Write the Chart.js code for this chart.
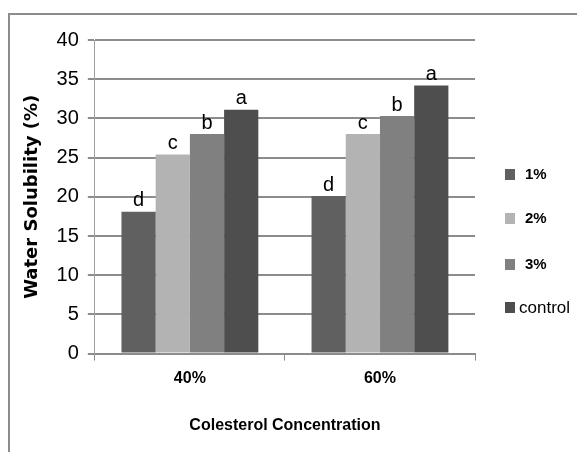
<!DOCTYPE html>
<html>
<head>
<meta charset="utf-8">
<script src="https://cdn.jsdelivr.net/npm/chart.js@4/dist/chart.umd.min.js"></script>
<style>
  html, body { margin: 0; padding: 0; background: #fff; }
  #wrap { position: relative; width: 577px; height: 452px; overflow: hidden; }
  #frame { position: absolute; left: 8px; top: 13px; width: 700px; height: 600px; border: 2px solid #8c8c8c; }
  canvas { position: absolute; left: 0; top: 0; }
</style>
</head>
<body>
<div id="wrap">
  <div id="frame"></div>
  <canvas id="chart" width="577" height="452"></canvas>
</div>
<script>
// categories and series
const categories = ['40%', '60%']
const seriesNames = ['1%', '2%', '3%', 'control']
const s1 = [18.1, 20.1]
const s2 = [25.4, 28.0]
const s3 = [28.0, 30.3]
const sControl = [31.1, 34.2]
const letters1 = ['d', 'd']
const letters2 = ['c', 'c']
const letters3 = ['b', 'b']
const lettersControl = ['a', 'a']
const yTicks = [0, 5, 10, 15, 20, 25, 30, 35, 40]

const colors = ['#606060', '#b3b3b3', '#808080', '#4e4e4e']
const values = [s1, s2, s3, sControl]
const letters = [letters1, letters2, letters3, lettersControl]

const SANS = '"Liberation Sans", Arial, sans-serif'

// letters over the bars
const letterPlugin = {
  id: 'letters',
  afterDatasetsDraw(chart) {
    const ctx = chart.ctx
    ctx.save()
    ctx.fillStyle = '#000'
    ctx.font = '20px ' + SANS
    ctx.textAlign = 'center'
    ctx.textBaseline = 'bottom'
    chart.data.datasets.forEach((ds, i) => {
      chart.getDatasetMeta(i).data.forEach((bar, j) => {
        ctx.fillText(ds.letters[j], bar.x, bar.y - 1)
      })
    })
    ctx.restore()
  }
}

// legend drawn by hand so each entry can keep its own font
const legendPlugin = {
  id: 'sideLegend',
  afterDraw(chart) {
    const ctx = chart.ctx
    const ys = [174, 218, 264, 307]
    ctx.save()
    ctx.textBaseline = 'middle'
    chart.data.datasets.forEach((ds, i) => {
      ctx.fillStyle = ds.backgroundColor
      ctx.fillRect(505, ys[i] - 5, 10, 11)
      ctx.fillStyle = '#000'
      if (ds.label === 'control') {
        ctx.font = '17px ' + SANS
        ctx.fillText(ds.label, 519, ys[i] + 1)
      } else {
        ctx.font = 'bold 15px ' + SANS
        ctx.fillText(ds.label, 525, ys[i] + 1)
      }
    })
    ctx.restore()
  }
}

new Chart(document.getElementById('chart'), {
  type: 'bar',
  data: {
    labels: categories,
    datasets: seriesNames.map((name, i) => ({
      label: name,
      data: values[i],
      letters: letters[i],
      backgroundColor: colors[i],
      borderWidth: 0,
      categoryPercentage: 0.72,
      barPercentage: 1.0
    }))
  },
  plugins: [letterPlugin, legendPlugin],
  options: {
    responsive: false,
    animation: false,
    layout: { padding: { left: 22, right: 102, top: 40, bottom: 17 } },
    plugins: {
      legend: { display: false },
      tooltip: { enabled: false }
    },
    scales: {
      x: {
        grid: { display: true, drawOnChartArea: false, drawTicks: true, tickLength: 7, offset: true, color: '#8c8c8c', lineWidth: 1 },
        border: { display: true, color: '#8c8c8c', width: 2 },
        ticks: { color: '#000', padding: 8, font: { family: SANS, size: 16, weight: 'bold' } },
        title: {
          display: true,
          text: 'Colesterol Concentration',
          color: '#000',
          font: { family: SANS, size: 16, weight: 'bold' },
          padding: { top: 20, bottom: 0 }
        }
      },
      y: {
        min: 0,
        max: 40,
        afterBuildTicks(scale) { scale.ticks = yTicks.map(v => ({ value: v })) },
        grid: { color: '#8c8c8c', lineWidth: 2, tickLength: 7, drawTicks: true },
        border: { display: true, color: '#a0a0a0', width: 1 },
        ticks: { color: '#000', padding: 9, font: { family: SANS, size: 20 } },
        title: {
          display: true,
          text: 'Water Solubility (%)',
          color: '#000',
          font: { family: '"DejaVu Sans", Verdana, sans-serif', size: 18, weight: 'bold' },
          padding: { top: 0, bottom: 4 }
        }
      }
    }
  }
})
</script>
</body>
</html>
